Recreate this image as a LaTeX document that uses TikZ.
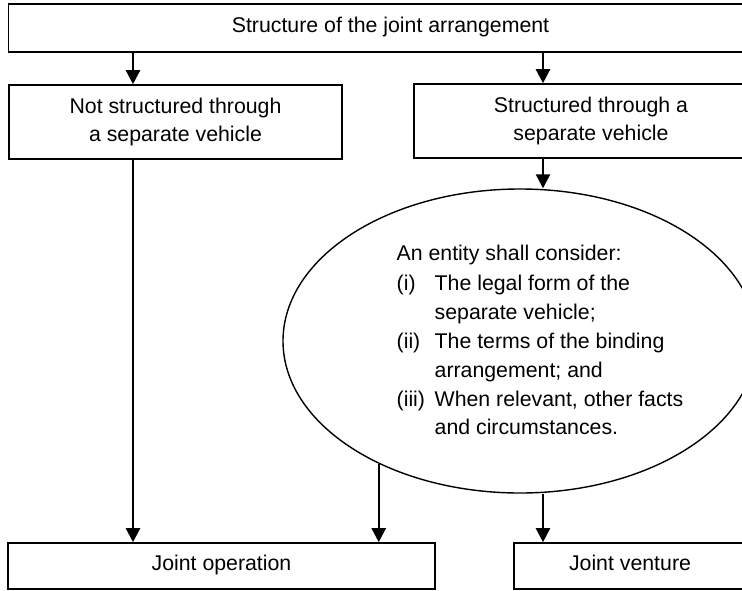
\documentclass[tikz,border=0pt]{standalone}
\usepackage{fontspec}
\setmainfont{Liberation Sans}
\usepackage{tikz}
\usetikzlibrary{arrows.meta,shapes.geometric}

\begin{document}
\begin{tikzpicture}[x=1pt, y=-1pt,
  box/.style={draw, line width=1.6pt, inner sep=0pt, align=center},
  onebox/.style={box, text height=0.9em, text depth=0.1em},
  arr/.style={line width=2.4pt, -{Triangle[length=14pt,width=14pt]}},
  every node/.style={font=\fontsize{21.3}{28.8}\selectfont}]
  % Page frame
  \useasboundingbox (0,0) rectangle (742,590);

  % Boxes
  \node[onebox, minimum width=764, minimum height=48] (top) at (390.5,28) {Structure of the joint arrangement};
  \node[box, minimum width=333, minimum height=74] (notsep) at (175.5,122) {Not structured through\\a separate vehicle};
  \node[box, minimum width=354, minimum height=74] (sep) at (591,121) {Structured through a\\separate vehicle};
  \node[onebox, minimum width=427, minimum height=46] (jop) at (221.5,566) {Joint operation};
  \node[onebox, minimum width=232, minimum height=46] (jv) at (630,566) {Joint venture};

  % The ellipse and what an entity shall consider
  \node[draw, ellipse, line width=1.4pt, minimum width=474, minimum height=304] (ell) at (520,341) {};
  \node[inner sep=0pt] (crit) at (540,342) {%
    \begin{tabular}{@{}p{38pt}@{}l@{}}
      \multicolumn{2}{@{}l@{}}{An entity shall consider:}\\[1.5pt]
      (i) & The legal form of the\\
          & separate vehicle;\\
      (ii) & The terms of the binding\\
           & arrangement; and\\
      (iii) & When relevant, other facts\\
            & and circumstances.
    \end{tabular}};

  % Columns of the arrows
  \coordinate (xl) at (133,0);
  \coordinate (xr) at (543,0);

  % Arrows
  \draw[arr] (top.south -| xl) -- (notsep.north -| xl);
  \draw[arr] (top.south -| xr) -- (sep.north -| xr);
  \draw[arr] (sep.south -| xr) -- (ell.north -| xr);
  \draw[arr] (notsep.south -| xl) -- (jop.north -| xl);
  \draw[arr] (ell.221) -- (ell.221 |- jop.north);
  \draw[arr] (ell.south -| xr) -- (jv.north -| xr);
\end{tikzpicture}
\end{document}
